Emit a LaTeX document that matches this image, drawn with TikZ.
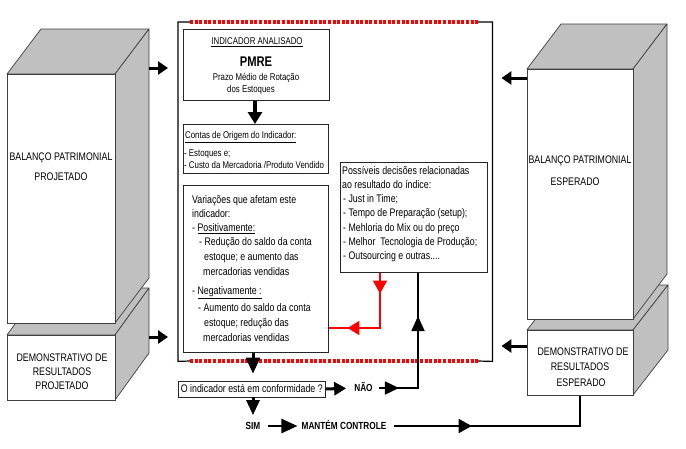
\documentclass[tikz,border=0pt]{standalone}
\usepackage{fontspec}
\setmainfont{Liberation Sans}[FakeStretch=0.8]
\usetikzlibrary{arrows.meta,decorations.markings}
\definecolor{cubegray}{RGB}{192,192,192}
\begin{document}
\begin{tikzpicture}[x=1pt,y=-1pt,
  side/.style={fill=cubegray, draw=black!75, line width=0.7pt, line join=round},
  front/.style={draw=black!75, fill=white, line width=0.7pt, inner sep=0pt, anchor=north west},
  box/.style={draw=black!85, fill=white, line width=0.8pt, inner sep=0pt, anchor=north west},
  t11/.style={inner sep=0pt, font=\fontsize{11}{13}\selectfont, text height=7.9pt, text depth=0pt},
  t10/.style={inner sep=0pt, font=\fontsize{9.8}{12}\selectfont, text height=7pt, text depth=0pt},
  tb/.style={inner sep=0pt, font=\bfseries\fontsize{10.3}{12}\selectfont, text height=7.4pt, text depth=0pt},
  bigarrow/.style={line width=3pt, -{Triangle[length=10pt,width=13pt]}},
  midarrows/.style={postaction=decorate},
  reddots/.style={red, line width=3.2pt, dash pattern=on 3pt off 1.6pt},
]
\useasboundingbox (0,0) rectangle (686,448);
\fill[white] (0,0) rectangle (686,448);

% ---------- left cubes ----------
\path[side] (7,335) -- (41,288) -- (149,288) -- (115,335) -- cycle;
\path[side] (115,335) -- (149,288) -- (149,353) -- (115,400) -- cycle;
\node[front, minimum width=108pt, minimum height=65pt] (dl) at (7,335) {};
\path[side] (7,74) -- (41,29) -- (149,29) -- (115,74) -- cycle;
\path[side] (115,74) -- (149,29) -- (149,278) -- (115,323) -- cycle;
\node[front, minimum width=108pt, minimum height=249pt] (bl) at (7,74) {};
\node[t11] (bl1) at (61,157) {BALANÇO PATRIMONIAL};
\node[t11] (bl2) at (61,177) {PROJETADO};
\node[t11] (dl1) at (62,358) {DEMONSTRATIVO DE};
\node[t11] (dl2) at (62,372) {RESULTADOS};
\node[t11] (dl3) at (62,386) {PROJETADO};

% ---------- right cubes ----------
\path[side] (527,330) -- (562,285) -- (668,285) -- (633,330) -- cycle;
\path[side] (633,330) -- (668,285) -- (668,350) -- (633,395) -- cycle;
\node[front, minimum width=106pt, minimum height=65pt] (dr) at (527,330) {};
\path[side] (527,69) -- (561,24) -- (667,24) -- (633,69) -- cycle;
\path[side] (633,69) -- (667,24) -- (667,274) -- (633,319) -- cycle;
\node[front, minimum width=106pt, minimum height=250pt] (br) at (527,69) {};
\node[t11] (br1) at (580,160) {BALANÇO PATRIMONIAL};
\node[t11] (br2) at (575,182) {ESPERADO};
\node[t11] (dr1) at (583,352) {DEMONSTRATIVO DE};
\node[t11] (dr2) at (580,367) {RESULTADOS};
\node[t11] (dr3) at (581,383) {ESPERADO};

% ---------- central frame ----------
\node[inner sep=0pt, minimum width=314pt, minimum height=339pt, anchor=north west] (fr) at (178,22) {};
\draw[line width=1.2pt, black] (190,22) -- (fr.north west) -- (fr.south west) -- (190,361);
\draw[line width=1.2pt, black] (478,22) -- (fr.north east) -- (fr.south east) -- (478,361);
\draw[reddots] (190,22) -- (478,22);
\draw[reddots] (190,361) -- (478,361);

% arrows cubes -> frame
\draw[bigarrow, shorten >=10pt] (149,68) -- (fr.west |- 0,68);
\draw[bigarrow, shorten >=10pt] (149,337) -- (fr.west |- 0,337);
\draw[bigarrow, shorten >=9pt] (br.west |- 0,78) -- (fr.east |- 0,78);
\draw[bigarrow, shorten >=9pt] (dr.west |- 0,346) -- (fr.east |- 0,346);

% ---------- indicator box ----------
\node[box, minimum width=146pt, minimum height=71pt] (ind) at (183,29) {};
\node[t10] (ind1) at (257,41) {\underline{INDICADOR ANALISADO}};
\node[inner sep=0pt, font=\bfseries\fontsize{14}{16}\selectfont, text height=10pt, text depth=0pt] (ind2) at (256,61) {PMRE};
\node[t10] (ind3) at (256,76.5) {Prazo Médio de Rotação};
\node[t10] (ind4) at (251,89) {dos Estoques};

% ---------- contas box ----------
\node[box, minimum width=145pt, minimum height=49pt] (ct) at (183,124) {};
\node[t10, anchor=west] (ct1) at (185,135) {\underline{Contas de Origem do Indicador:}};
\node[t10, anchor=west] (ct2) at (184,153) {- Estoques e;};
\node[t10, anchor=west] (ct3) at (184,165) {- Custo da Mercadoria /Produto Vendido};
\draw[line width=3.5pt, -{Triangle[length=12pt,width=14pt]}] (ind.south -| 255,0) -- (ct.north -| 255,0);

% ---------- variacoes box ----------
\node[box, minimum width=145pt, minimum height=167pt] (var) at (183,185) {};
\node[t11, anchor=west] (v1) at (192,200) {Variações que afetam este};
\node[t11, anchor=west] (v2) at (192,214) {indicador:};
\node[t11, anchor=west] (v3) at (192,228) {- \underline{Positivamente:}};
\node[t11, anchor=west] (v4) at (199,242) {- Redução do saldo da conta};
\node[t11, anchor=west] (v5) at (204,257) {estoque; e aumento das};
\node[t11, anchor=west] (v6) at (203,272) {mercadorias vendidas};
\node[t11, anchor=west] (v7) at (192,291) {- \underline{Negativamente :}};
\node[t11, anchor=west] (v8) at (198,308) {- Aumento do saldo da conta};
\node[t11, anchor=west] (v9) at (204,323) {estoque; redução das};
\node[t11, anchor=west] (v10) at (203,338) {mercadorias vendidas};

% ---------- possiveis box ----------
\node[box, minimum width=147pt, minimum height=110pt] (ps) at (340,162) {};
\node[t11, anchor=west] (p1) at (342,170.5) {Possíveis decisões relacionadas};
\node[t11, anchor=west] (p2) at (342,185) {ao resultado do índice:};
\node[t11, anchor=west] (p3) at (343,199) {- Just in Time;};
\node[t11, anchor=west] (p4) at (343,213) {- Tempo de Preparação (setup);};
\node[t11, anchor=west] (p5) at (343,228) {- Mehloria do Mix ou do preço};
\node[t11, anchor=west] (p6) at (343,242) {- Melhor\ \ Tecnologia de Produção;};
\node[t11, anchor=west] (p7) at (343,255.5) {- Outsourcing e outras....};

% red feedback arrow
\draw[red, line width=1.6pt, midarrows, decoration={markings,
   mark=at position 0.195 with {\arrow{Triangle[length=13pt,width=14pt]}},
   mark=at position 0.825 with {\arrow{Triangle[length=12pt,width=14pt]}}}]
   (ps.south -| 380,0) -- (380,328) -- (var.east |- 0,328);

% ---------- decision ----------
\node[draw=black!85, line width=0.8pt, inner xsep=2.5pt, inner ysep=0pt, minimum height=16pt,
      font=\fontsize{11}{13}\selectfont, text height=7.9pt, text depth=0pt, anchor=west] (cf) at (178,389)
      {O indicador está em conformidade ?};
\draw[line width=3pt, -{Triangle[length=16pt,width=14pt]}, shorten >=7pt] (var.south -| 253,0) -- (cf.north -| 253,0);
\node[tb] (nao) at (363.5,388) {NÃO};
\node[tb] (sim) at (253,426) {SIM};
\node[tb] (mc) at (344,426) {MANTÉM CONTROLE};
\draw[line width=3pt, -{Triangle[length=12pt,width=13pt]}, shorten >=8pt] (cf.east) -- (nao.west);
\draw[line width=3pt, -{Triangle[length=15pt,width=13pt]}, shorten >=7pt] (cf.south -| 253,0) -- (sim.north);
\draw[line width=2.5pt, -{Triangle[length=16pt,width=14pt]}, shorten <=7pt, shorten >=4pt] (sim.east) -- (mc.west);

% NAO -> possiveis
\draw[line width=1.8pt, midarrows, decoration={markings,
   mark=at position 0.13 with {\arrow{Triangle[length=14pt,width=13pt]}},
   mark=at position 0.72 with {\arrow{Triangle[length=15pt,width=13pt]}}}]
   ([xshift=6pt]nao.east) -- (418,388) -- (ps.south -| 418,0);

% MANTEM CONTROLE -> demonstrativo esperado
\draw[line width=1.8pt, midarrows, decoration={markings,
   mark=at position 0.36 with {\arrow{Triangle[length=13pt,width=14pt]}}}]
   ([xshift=7pt]mc.east) -- (dr.south |- mc.east) -- (dr.south);
\end{tikzpicture}
\end{document}
